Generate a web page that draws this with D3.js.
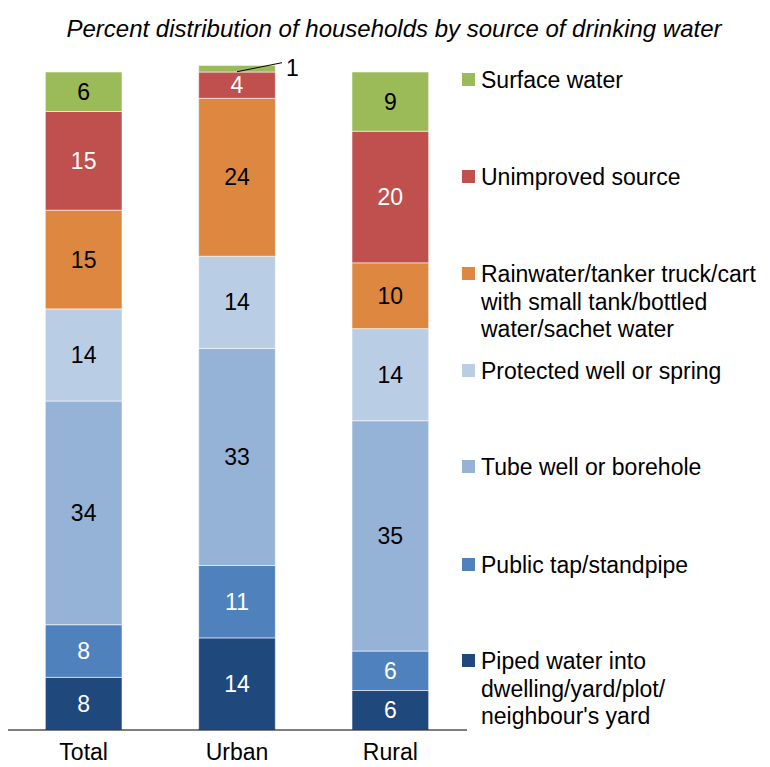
<!DOCTYPE html>
<html>
<head>
<meta charset="utf-8">
<script src="https://cdn.jsdelivr.net/npm/d3@7"></script>
<style>
  html, body { margin: 0; padding: 0; background: #fff; }
  svg { display: block; font-family: "Liberation Sans", Arial, sans-serif; }
</style>
</head>
<body>
<svg id="chart" width="770" height="767"></svg>
<script>
// Residence groups shown as bars
const categories = ["Total", "Urban", "Rural"];

// Water sources, stacked from the bottom up
const sources = [
  "Piped water into dwelling/yard/plot/neighbour's yard",
  "Public tap/standpipe",
  "Tube well or borehole",
  "Protected well or spring",
  "Rainwater/tanker truck/cart with small tank/bottled water/sachet water",
  "Unimproved source",
  "Surface water"
];

// Percent of households per source (same order as sources), one array per group
const totalValues = [8, 8, 34, 14, 15, 15, 6];
const urbanValues = [14, 11, 33, 14, 24, 4, 1];
const ruralValues = [6, 6, 35, 14, 10, 20, 9];

// Legend text, broken into lines
const legendLines = [
  ["Piped water into", "dwelling/yard/plot/", "neighbour's yard"],
  ["Public tap/standpipe"],
  ["Tube well or borehole"],
  ["Protected well or spring"],
  ["Rainwater/tanker truck/cart", "with small tank/bottled", "water/sachet water"],
  ["Unimproved source"],
  ["Surface water"]
];

const colors = ["#1F497D", "#4F81BD", "#95B3D7", "#B9CDE5", "#DD8740", "#C0504D", "#9BBB59"];
const labelColors = ["#fff", "#fff", "#000", "#000", "#000", "#fff", "#000"];

const FS = 23;

const svg = d3.select("#chart");

const rows = categories.map((c, i) => {
  const vals = [totalValues, urbanValues, ruralValues][i];
  const r = { category: c };
  sources.forEach((s, j) => r[s] = vals[j]);
  return r;
});

const series = d3.stack().keys(sources)(rows);

const x = d3.scaleBand().domain(categories).range([7, 467]).paddingInner(0.5).paddingOuter(0.25);
const y = d3.scaleLinear().domain([0, 100]).range([730, 72]);

// Title
svg.append("text")
  .attr("x", 394).attr("y", 37)
  .attr("text-anchor", "middle")
  .attr("font-style", "italic")
  .attr("font-size", 24)
  .attr("fill", "#000")
  .text("Percent distribution of households by source of drinking water");

// Stacked bars
const layers = svg.append("g").selectAll("g")
  .data(series)
  .join("g")
  .attr("fill", (d, i) => colors[i]);

layers.selectAll("rect")
  .data(d => d)
  .join("rect")
  .attr("x", d => x(d.data.category))
  .attr("width", x.bandwidth())
  .attr("y", d => y(d[1]))
  .attr("height", d => y(d[0]) - y(d[1]))
  .attr("stroke", "rgba(255,255,255,0.55)")
  .attr("stroke-width", 1);

// Value labels inside segments (small Urban surface value gets a leader line)
series.forEach((s, i) => {
  s.forEach(d => {
    const v = d[1] - d[0];
    const cx = x(d.data.category) + x.bandwidth() / 2;
    const cy = (y(d[0]) + y(d[1])) / 2;
    if (v < 2) {
      svg.append("line")
        .attr("x1", cx).attr("y1", cy + 3)
        .attr("x2", cx + 45).attr("y2", cy - 6)
        .attr("stroke", "#000").attr("stroke-width", 1);
      svg.append("text")
        .attr("x", cx + 49).attr("y", cy + 7)
        .attr("font-size", FS)
        .attr("fill", "#000")
        .text(v);
    } else {
      svg.append("text")
        .attr("x", cx).attr("y", cy + 8)
        .attr("text-anchor", "middle")
        .attr("font-size", FS)
        .attr("fill", labelColors[i])
        .text(v);
    }
  });
});

// Category axis
const xAxis = svg.append("g")
  .attr("transform", "translate(0,730)")
  .call(d3.axisBottom(x).tickSize(0).tickPadding(14));
xAxis.select(".domain").attr("stroke", "#000").attr("stroke-width", 1.2).attr("d", "M8,0H467");
xAxis.selectAll("text")
  .attr("font-size", FS)
  .attr("font-family", "Liberation Sans, Arial, sans-serif")
  .attr("fill", "#000");

// Legend, top entry = top of stack
const legendTop = [661, 565, 467, 371, 274, 177, 80];
const legend = svg.append("g");
sources.forEach((s, i) => {
  const g = legend.append("g").attr("transform", `translate(462,${legendTop[i]})`);
  g.append("rect")
    .attr("x", 0).attr("y", -7)
    .attr("width", 13).attr("height", 13)
    .attr("fill", colors[i]);
  g.append("text")
    .attr("x", 19).attr("y", 8)
    .attr("font-size", FS)
    .attr("fill", "#000")
    .selectAll("tspan")
    .data(legendLines[i])
    .join("tspan")
    .attr("x", 19)
    .attr("dy", (d, k) => k === 0 ? 0 : 27.5)
    .text(d => d);
});
</script>
</body>
</html>
